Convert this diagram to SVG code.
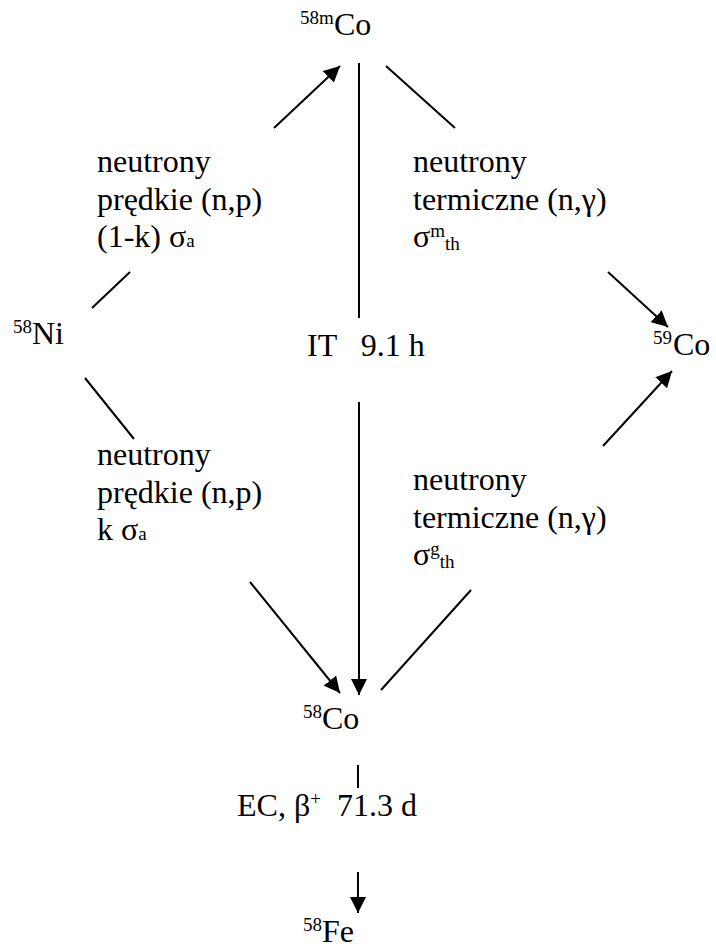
<svg xmlns="http://www.w3.org/2000/svg" width="716" height="947" viewBox="0 0 716 947">
<defs>
<style>
text{font-family:'Liberation Serif','Times New Roman',serif;font-size:32px;fill:#000}
.sup{font-size:19px}
.sub{font-size:19px}
line{stroke:#000;stroke-width:2}
.arr{marker-end:url(#ah)}
</style>
<marker id="ah" viewBox="0 0 10 10" refX="10" refY="5" markerWidth="8" markerHeight="8" markerUnits="strokeWidth" orient="auto">
<path d="M0,0 L10,5 L0,10 z" fill="#000"/>
</marker>
</defs>
<rect width="716" height="947" fill="#fff"/>
<g id="connectors">
<line x1="92" y1="308" x2="130" y2="272"/>
<line class="arr" x1="274" y1="128" x2="340" y2="66"/>
<line x1="386" y1="66" x2="455" y2="128"/>
<line class="arr" x1="608" y1="272" x2="668" y2="327"/>
<line x1="359" y1="63" x2="359" y2="318"/>
<line class="arr" x1="359" y1="402" x2="359" y2="695"/>
<line x1="85" y1="378" x2="134" y2="439"/>
<line class="arr" x1="250" y1="582" x2="340" y2="693"/>
<line x1="381" y1="690" x2="471" y2="590"/>
<line class="arr" x1="603" y1="446" x2="672" y2="371"/>
<line x1="358" y1="765" x2="358" y2="788"/>
<line class="arr" x1="358" y1="872" x2="358" y2="913"/>
</g>
<g id="co58m"><text y="35"><tspan class="sup" x="300" dy="-11">58m</tspan><tspan x="334" dy="11">Co</tspan></text></g>
<g id="ni58"><text y="344"><tspan class="sup" x="13" dy="-11">58</tspan><tspan x="32" dy="11">Ni</tspan></text></g>
<g id="co59"><text y="355"><tspan class="sup" x="653" dy="-11">59</tspan><tspan x="673" dy="11">Co</tspan></text></g>
<g id="co58"><text y="729"><tspan class="sup" x="303" dy="-11">58</tspan><tspan x="322" dy="11">Co</tspan></text></g>
<g id="fe58"><text y="942"><tspan class="sup" x="303" dy="-11">58</tspan><tspan x="322" dy="11">Fe</tspan></text></g>
<g id="label-it"><text x="307" y="356" xml:space="preserve">IT   9.1 h</text></g>
<g id="label-ec"><text x="237" y="816" xml:space="preserve">EC, β<tspan class="sup" dy="-11">+</tspan><tspan dy="11">  71.3 d</tspan></text></g>
<g id="label-ul">
<text x="97" y="172">neutrony</text>
<text x="97" y="210">prędkie (n,p)</text>
<text x="97" y="247">(1-k) σ<tspan class="sub">a</tspan></text>
</g>
<g id="label-ll">
<text x="97" y="465">neutrony</text>
<text x="97" y="503">prędkie (n,p)</text>
<text x="97" y="540">k σ<tspan class="sub">a</tspan></text>
</g>
<g id="label-ur">
<text x="413" y="172">neutrony</text>
<text x="413" y="210">termiczne (n,γ)</text>
<text x="413" y="247">σ<tspan class="sup" dy="-10">m</tspan><tspan class="sub" dy="13">th</tspan></text>
</g>
<g id="label-lr">
<text x="413" y="490">neutrony</text>
<text x="413" y="528">termiczne (n,γ)</text>
<text x="413" y="565">σ<tspan class="sup" dy="-10">g</tspan><tspan class="sub" dy="13">th</tspan></text>
</g>
</svg>
